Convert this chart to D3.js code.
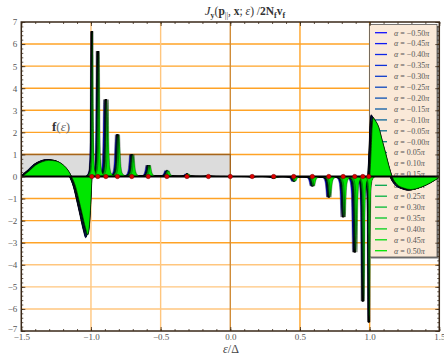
<!DOCTYPE html>
<html>
<head>
<meta charset="utf-8">
<script src="https://cdn.jsdelivr.net/npm/d3@7"></script>
<style>
  body { margin: 0; background: #fff; }
  svg { display: block; }
</style>
</head>
<body>
<svg id="chart" width="444" height="355"></svg>
<script>
// Phase values of the family of curves (legend order)
const alphaLabels = ["−0.50","−0.45","−0.40","−0.35","−0.30","−0.25","−0.20","−0.15","−0.10","−0.05",
                     "−0.00","0.05","0.10","0.15","0.20","0.25","0.30","0.35","0.40","0.45","0.50"];
const alphas = [-0.50,-0.45,-0.40,-0.35,-0.30,-0.25,-0.20,-0.15,-0.10,-0.05,
                0.00,0.05,0.10,0.15,0.20,0.25,0.30,0.35,0.40,0.45,0.50];
// Relative strength of the continuum lobes for each phase
const lobeScale = [1.00,0.99,0.985,0.98,0.975,0.97,0.96,0.95,0.93,0.90,
                   0.75,0.55,0.62,0.80,0.88,0.90,0.92,0.93,0.94,0.95,0.95];
// Where each phase puts its resonance inside the splitting window (−1 … 1)
const levelOffset = [-1.0,-0.42,-0.38,-0.34,-0.3,-0.26,-0.22,-0.17,-0.12,-0.06,
                     0.0,0.06,0.12,0.17,0.22,0.26,0.3,0.34,0.38,0.42,1.0];
// Energy drift of the continuum lobes across the phase range
const lobeDrift = 0.015;

// Sub-gap bound state energies (ε/Δ)
const boundStates = [-0.994,-0.951,-0.893,-0.810,-0.707,-0.589,-0.455,-0.311,-0.157,0,
                     0.157,0.311,0.455,0.589,0.707,0.810,0.893,0.951,0.994];
// Resonance heights, half-widths and splitting window at each bound state
const peakHeights = [6.58,5.68,3.49,1.90,1.00,0.52,0.27,0.12,0.03,0.0,
                     -0.02,-0.08,-0.22,-0.44,-0.94,-1.84,-3.43,-5.65,-6.60];
const peakWidths = [0.0028,0.0036,0.0048,0.006,0.0072,0.0085,0.0095,0.0105,0.011,0.012,
                    0.011,0.0105,0.0095,0.0085,0.0072,0.006,0.0048,0.0036,0.0028];
const peakSplits = [0.016,0.022,0.032,0.03,0.03,0.03,0.028,0.026,0.024,0.024,
                    0.024,0.026,0.028,0.03,0.03,0.03,0.032,0.022,0.016];

// Continuum contributions outside the gap, [ε/Δ, J]
const lobeLeft = [[-1.5,0],[-1.45,0.27],[-1.405,0.54],[-1.358,0.70],[-1.31,0.77],[-1.262,0.74],
                  [-1.214,0.59],[-1.179,0.36],[-1.147,0],[-1.118,-0.48],[-1.095,-1.09],[-1.071,-1.77],
                  [-1.047,-2.45],[-1.030,-2.78],[-1.018,-2.3],[-1.0,0]];
const lobeRight = [[0.994,0],[1.003,1.2],[1.010,2.3],[1.018,2.8],[1.03,2.7],[1.058,2.35],[1.082,1.75],
                   [1.106,1.15],[1.13,0.53],[1.154,0],[1.19,-0.38],[1.237,-0.55],[1.285,-0.62],
                   [1.357,-0.52],[1.43,-0.3],[1.5,0]];

// Fermi function at zero temperature
const fermi = [[-1.5,1],[0,1]];

// Lorentzian line shape used for every resonance: [offset in half-widths, fraction of height]
const spikeProfile = [[-14,0],[-8,0.015],[-5,0.038],[-3.5,0.075],[-2.5,0.138],[-1.8,0.236],[-1.2,0.41],
                      [-0.8,0.61],[-0.45,0.83],[-0.2,0.96],[0,1],[0.2,0.96],[0.45,0.83],[0.8,0.61],
                      [1.2,0.41],[1.8,0.236],[2.5,0.138],[3.5,0.075],[5,0.038],[8,0.015],[14,0]];

const xTicks = [-1.5,-1.0,-0.5,0.0,0.5,1.0,1.5];
const yTicks = [-7,-6,-5,-4,-3,-2,-1,0,1,2,3,4,5,6,7];
const xGrid = [-1.0,-0.5,0.0,0.5,1.0];
const yGrid = [-6,-5,-4,-3,-2,-1,1,2,3,4,5,6];

const svg = d3.select("#chart");
const L = 21.3, R = 439.3, T = 22, B = 331;
const x = d3.scaleLinear().domain([-1.5, 1.5]).range([L, R]);
const y = d3.scaleLinear().domain([-7, 7]).range([B, T]);
const color = d3.scaleLinear().domain([-0.5, 0.5]).range(["#1010ff", "#00e600"]).interpolate(d3.interpolateRgb);
const serif = "'Liberation Serif', 'DejaVu Serif', serif";

svg.append("defs").append("clipPath").attr("id", "plotClip")
  .append("rect").attr("x", L).attr("y", T).attr("width", R - L).attr("height", B - T);

// Grid
const grid = svg.append("g");
grid.selectAll("line.h").data(yGrid).join("line")
  .attr("x1", L).attr("x2", R).attr("y1", d => y(d)).attr("y2", d => y(d))
  .attr("stroke", d => d <= -4 ? "#ffc67e" : "#ffa326").attr("stroke-width", 1.4);
grid.selectAll("line.v").data(xGrid).join("line")
  .attr("y1", T).attr("y2", B).attr("x1", d => x(d)).attr("x2", d => x(d))
  .attr("stroke", d => d < 0 ? "#ffc67e" : (d === 0 ? "#d08c38" : "#ffa326")).attr("stroke-width", 1.4);

// Occupation f(ε)
svg.append("path")
  .attr("d", d3.area().x(d => x(d[0])).y0(y(0)).y1(d => y(d[1]))(fermi))
  .attr("fill", "#dcdcdc");
svg.append("path")
  .attr("d", d3.line().x(d => x(d[0])).y(d => y(d[1]))(fermi.concat([[0, 0]])))
  .attr("fill", "none").attr("stroke", "#a5651c").attr("stroke-width", 1.4);

svg.append("text").attr("x", 52).attr("y", 131)
  .attr("font-family", serif).attr("font-size", 13)
  .call(t => {
    t.append("tspan").attr("font-weight", "bold").attr("fill", "#333").text("f");
    t.append("tspan").attr("fill", "#666").text("(");
    t.append("tspan").attr("fill", "#666").attr("font-style", "italic").text("ε");
    t.append("tspan").attr("fill", "#666").text(")");
  });

// Legend (sits under the curves)
const lg = svg.append("g");
const lgX = 369.5, lgY = 24.5, lgW = 67.5, lgH = 232.5;
lg.append("rect").attr("x", lgX + 1.5).attr("y", lgY + 1.5).attr("width", lgW).attr("height", lgH).attr("fill", "#777");
lg.append("rect").attr("x", lgX).attr("y", lgY).attr("width", lgW).attr("height", lgH)
  .attr("fill", "#fae9d8").attr("stroke", "#555").attr("stroke-width", 0.8);
alphaLabels.forEach((lab, i) => {
  const yy = 32.7 + i * 10.9;
  lg.append("line").attr("x1", 375).attr("x2", 387).attr("y1", yy).attr("y2", yy)
    .attr("stroke", color(alphas[i])).attr("stroke-width", 1.3);
  const t = lg.append("text").attr("x", 394).attr("y", yy + 2.8)
    .attr("font-family", serif).attr("font-size", 8).attr("fill", "#555");
  t.append("tspan").attr("font-style", "italic").text("α");
  t.append("tspan").text(" = " + lab);
  t.append("tspan").attr("font-style", "italic").text("π");
});

// Curves for every phase
const plot = svg.append("g").attr("clip-path", "url(#plotClip)");
const area = d3.area().curve(d3.curveMonotoneX)
  .x(d => x(d[0])).y0(y(0)).y1(d => y(d[1]));

alphas.forEach((a, i) => {
  const g = plot.append("g");
  const c = color(a);
  [lobeLeft, lobeRight].forEach(lobe => {
    g.append("path")
      .attr("d", area(lobe.map(p => [p[0] + a * lobeDrift, p[1] * lobeScale[i]])))
      .attr("fill", c).attr("stroke", "#000").attr("stroke-width", 0.6);
  });
  boundStates.forEach((e0, k) => {
    if (peakHeights[k] === 0) return;
    const centre = e0 + levelOffset[i] * peakSplits[k] / 2;
    g.append("path")
      .attr("d", area(spikeProfile.map(p => [centre + p[0] * peakWidths[k], p[1] * peakHeights[k]])))
      .attr("fill", c).attr("stroke", "#000").attr("stroke-width", 0.35);
  });
});

// Zero line and bound state markers
svg.append("line").attr("x1", L).attr("x2", R).attr("y1", y(0)).attr("y2", y(0))
  .attr("stroke", "#000").attr("stroke-width", 2);
svg.selectAll("circle.bs").data(boundStates).join("circle")
  .attr("cx", d => x(d)).attr("cy", y(0)).attr("r", 2.2)
  .attr("fill", "#e00000").attr("stroke", "#600").attr("stroke-width", 0.5);

// Frame and ticks
const minorX = d3.range(-15, 16).map(v => v / 10);
const minorY = d3.range(-35, 36).map(v => v / 5);
function styleAxis(g) {
  g.select(".domain").remove();
  g.selectAll(".tick line").attr("stroke", "#3a2818").attr("stroke-width", 0.8);
  g.selectAll(".tick text").attr("font-family", serif).attr("font-size", 9).attr("fill", "#555");
}
svg.append("g").attr("transform", `translate(0,${B})`)
  .call(d3.axisBottom(x).tickValues(minorX).tickFormat("").tickSize(-2)).call(styleAxis);
svg.append("g").attr("transform", `translate(0,${B})`)
  .call(d3.axisBottom(x).tickValues(xTicks).tickFormat(d3.format(".1f")).tickSize(-4).tickPadding(3)).call(styleAxis);
svg.append("g").attr("transform", `translate(0,${T})`)
  .call(d3.axisTop(x).tickValues(minorX).tickFormat("").tickSize(-2)).call(styleAxis);
svg.append("g").attr("transform", `translate(0,${T})`)
  .call(d3.axisTop(x).tickValues(xTicks).tickFormat("").tickSize(-4)).call(styleAxis);
svg.append("g").attr("transform", `translate(${L},0)`)
  .call(d3.axisLeft(y).tickValues(minorY).tickFormat("").tickSize(-2)).call(styleAxis);
const yAxisG = svg.append("g").attr("transform", `translate(${L},0)`)
  .call(d3.axisLeft(y).tickValues(yTicks).tickFormat(d3.format("d")).tickSize(-4).tickPadding(4)).call(styleAxis);
// lift the bottom-most label a little off the x tick labels
yAxisG.selectAll(".tick text").filter(d => d === -7).attr("dy", "0.05em");
svg.append("g").attr("transform", `translate(${R},0)`)
  .call(d3.axisRight(y).tickValues(minorY).tickFormat("").tickSize(-2)).call(styleAxis);
svg.append("g").attr("transform", `translate(${R},0)`)
  .call(d3.axisRight(y).tickValues(yTicks).tickFormat("").tickSize(-4)).call(styleAxis);
svg.append("rect").attr("x", L).attr("y", T).attr("width", R - L).attr("height", B - T)
  .attr("fill", "none").attr("stroke", "#3a2818").attr("stroke-width", 1.5);

// Axis label
svg.append("text").attr("x", 231).attr("y", 353).attr("text-anchor", "middle")
  .attr("font-family", serif).attr("font-size", 12).attr("fill", "#444")
  .call(t => {
    t.append("tspan").attr("font-style", "italic").text("ε");
    t.append("tspan").text("/Δ");
  });

// Title
svg.append("text").attr("x", 245).attr("y", 15).attr("text-anchor", "middle")
  .attr("font-family", serif).attr("font-size", 11.5).attr("fill", "#333")
  .call(t => {
    t.append("tspan").attr("font-style", "italic").attr("font-size", 13).text("J");
    t.append("tspan").attr("font-weight", "bold").attr("font-size", 8).attr("dy", 3).text("y");
    t.append("tspan").attr("dy", -3).text("(");
    t.append("tspan").attr("font-weight", "bold").text("p");
    t.append("tspan").attr("font-size", 8).attr("dy", 3).text("||");
    t.append("tspan").attr("dy", -3).text(", ");
    t.append("tspan").attr("font-weight", "bold").text("x");
    t.append("tspan").text("; ");
    t.append("tspan").attr("font-style", "italic").text("ε");
    t.append("tspan").text(") /");
    t.append("tspan").attr("font-weight", "bold").text("2N");
    t.append("tspan").attr("font-weight", "bold").attr("font-size", 8).attr("dy", 3).text("f");
    t.append("tspan").attr("font-weight", "bold").attr("dy", -3).text("v");
    t.append("tspan").attr("font-weight", "bold").attr("font-size", 8).attr("dy", 3).text("f");
  });
</script>
</body>
</html>
